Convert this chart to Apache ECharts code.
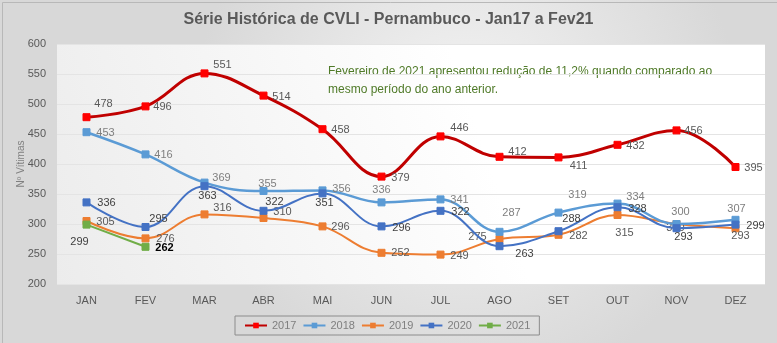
<!DOCTYPE html>
<html><head><meta charset="utf-8">
<script src="https://cdn.jsdelivr.net/npm/echarts@6/dist/echarts.min.js"></script>
<style>html,body{margin:0;padding:0;background:#dcdcdc}#c{width:777px;height:343px}</style>
</head><body><div id="c"></div>
<script>
const months = ['JAN','FEV','MAR','ABR','MAI','JUN','JUL','AGO','SET','OUT','NOV','DEZ'];
const seriesNames = ['2017','2018','2019','2020','2021'];
const v2017 = [478,496,551,514,458,379,446,412,411,432,456,395];
const v2018 = [453,416,369,355,356,336,341,287,319,334,300,307];
const v2019 = [305,276,316,310,296,252,249,275,282,315,300,293];
const v2020 = [336,295,363,322,351,296,322,263,288,328,293,299];
const v2021 = [299,262];
const yTicks = [200,250,300,350,400,450,500,550,600];
const titleText = 'Série Histórica de CVLI - Pernambuco - Jan17 a Fev21';
const noteLines = ['Fevereiro de 2021 apresentou redução de 11,2% quando comparado ao','mesmo período do ano anterior.'];

// label offsets (px, relative to point centre) — layout only
const off2017 = [[17,-13],[17,1],[18,-8],[18,1],[18,1],[19,1],[19,-8],[18,-5],[20,9],[18,1],[17,1],[18,1]];
const off2018 = [[19,1],[18,1],[17,-5],[4,-7],[19,-1],[0,-12],[19,1],[12,-19],[19,-18],[18,-7],[4,-12],[1,-11]];
const off2019 = [[19,1],[20,1],[18,-6],[19,-6],[18,1],[19,0],[19,1],[-22,-2],[20,1],[7,18],[-1,4],[5,8]];
const off2020 = [[20,1],[13,-8],[3,10],[11,-9],[2,10],[20,2],[20,1],[25,8],[13,-12],[20,2],[7,9],[20,1]];
const off2021 = [[-7,17],[19,1]];

const FONT = 'Liberation Sans';
function mk(name, vals, offs, lineColor, markColor, width, labelColor, z, special) {
  return {
    name, type: 'line', smooth: 0.4, z,
    symbol: 'rect', symbolSize: 7,
    lineStyle: {color: lineColor, width},
    itemStyle: {color: markColor, borderColor: markColor},
    label: {show: true, position: 'inside', color: labelColor, fontSize: 11, fontFamily: FONT},
    data: vals.map((v, i) => {
      const d = {value: v, label: {offset: offs[i]}};
      if (special && special[i]) Object.assign(d.label, special[i]);
      return d;
    })
  };
}
const chart = echarts.init(document.getElementById('c'));
chart.setOption({
  backgroundColor: new echarts.graphic.RadialGradient(0.6, 0.35, 0.8, [
    {offset: 0, color: '#f4f4f4'}, {offset: 1, color: '#d8d8d8'}]),
  animation: false,
  textStyle: {fontFamily: FONT},
  title: {text: titleText, left: 'center', top: 7,
    textStyle: {fontSize: 16, fontWeight: 'bold', color: '#595959', fontFamily: FONT}},
  grid: {left: 57, right: 12, top: 44, bottom: 59, show: true, borderWidth: 0,
    backgroundColor: new echarts.graphic.LinearGradient(0, 1, 1, 0, [
      {offset: 0, color: '#ececec'}, {offset: 0.6, color: '#ffffff'}, {offset: 1, color: '#ffffff'}])},
  xAxis: {type: 'category', data: months, boundaryGap: true,
    axisLine: {show: false}, axisTick: {show: false},
    axisLabel: {color: '#595959', fontSize: 11, margin: 11, fontFamily: FONT}},
  yAxis: {type: 'value', min: yTicks[0], max: yTicks[yTicks.length-1], interval: 50,
    name: 'Nº Vítimas', nameLocation: 'middle', nameRotate: 90, nameGap: 31, nameMoveOverlap: false,
    nameTextStyle: {color: '#7f7f7f', fontSize: 10, fontFamily: FONT},
    axisLine: {show: false}, axisTick: {show: false},
    axisLabel: {color: '#595959', fontSize: 11, margin: 11, fontFamily: FONT},
    splitLine: {lineStyle: {color: '#e4e4e4', width: 1}}},
  legend: {data: seriesNames, left: 235, top: 316, orient: 'horizontal',
    borderColor: '#8c8c8c', borderWidth: 1, padding: [4, 9, 4, 9], itemGap: 6,
    itemWidth: 22, itemHeight: 7, textStyle: {color: '#7f7f7f', fontSize: 11, fontFamily: FONT}},
  graphic: [
    {type: 'text', left: 328, top: 63, style: {text: noteLines.join('\n'), fill: '#4f7a28',
      font: '12px ' + FONT, lineHeight: 18}},
    {type: 'rect', left: 0, top: 0, shape: {width: 776, height: 342},
      style: {fill: 'none', stroke: '#b8b8b8', lineWidth: 1}, silent: true}
  ],
  series: [
    mk('2017', v2017, off2017, '#c00000', '#ff0000', 3, '#595959', 5),
    mk('2018', v2018, off2018, '#5b9bd5', '#5b9bd5', 2.5, '#7f7f7f', 4),
    mk('2019', v2019, off2019, '#ed7d31', '#ed7d31', 2, '#595959', 3),
    mk('2020', v2020, off2020, '#4472c4', '#4472c4', 2, '#404040', 4),
    mk('2021', v2021, off2021, '#70ad47', '#70ad47', 2, '#404040', 3,
      [null, {fontWeight: 'bold', color: '#000000'}])
  ]
});
</script></body></html>
